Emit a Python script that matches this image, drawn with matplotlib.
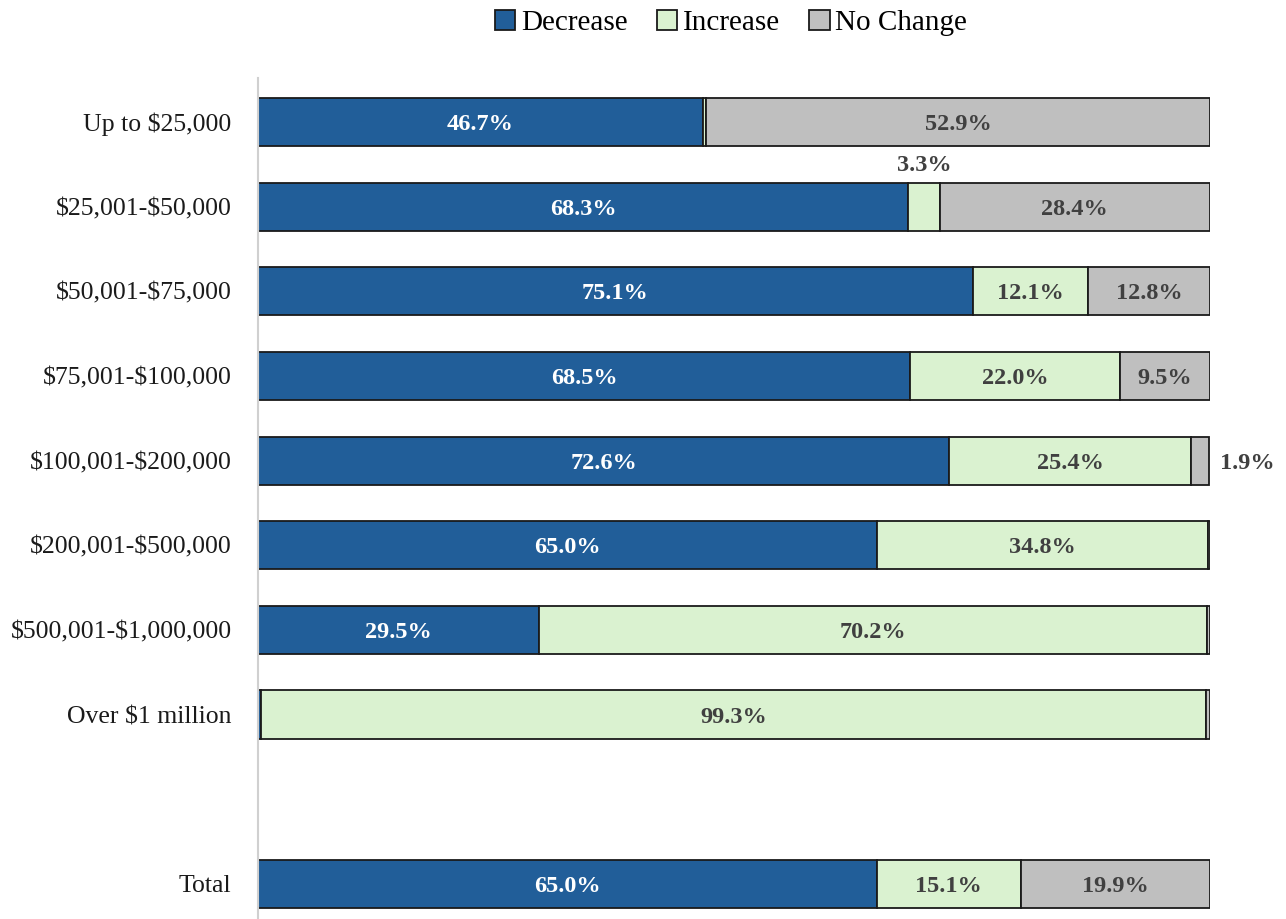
import matplotlib
matplotlib.use("Agg")
import matplotlib.pyplot as plt
from matplotlib.patches import Patch

plt.rcParams['font.family'] = ['Liberation Serif', 'DejaVu Serif']
plt.rcParams['text.parse_math'] = False

categories = ["Up to $25,000", "$25,001-$50,000", "$50,001-$75,000", "$75,001-$100,000",
              "$100,001-$200,000", "$200,001-$500,000", "$500,001-$1,000,000",
              "Over $1 million", "", "Total"]
decrease = [46.7, 68.3, 75.1, 68.5, 72.6, 65.0, 29.5, 0.3, None, 65.0]
increase = [0.4, 3.3, 12.1, 22.0, 25.4, 34.8, 70.2, 99.3, None, 15.1]
no_change = [52.9, 28.4, 12.8, 9.5, 1.9, 0.2, 0.3, 0.4, None, 19.9]
series_names = ["Decrease", "Increase", "No Change"]
colors = ["#215E99", "#DAF2D0", "#BFBFBF"]

fig = plt.figure(figsize=(12.86, 9.19), dpi=100)
ax = fig.add_axes([258/1286, 0.0, (1210-258)/1286, 1 - 78/919])

h = 0.57
fs = 17.5
for i, cat in enumerate(categories):
    if decrease[i] is None:
        continue
    vals = [decrease[i], increase[i], no_change[i]]
    left = 0
    for j, v in enumerate(vals):
        ax.barh(i, v, left=left, height=h, color=colors[j], edgecolor="#1a1a1a", linewidth=1.3)
        cx = left + v / 2
        label = f"{v:.1f}%"
        if v >= 5:
            ax.text(cx, i, label, ha="center", va="center_baseline", fontsize=fs, fontweight="bold",
                    color="white" if j == 0 else "#404040")
        left += v

# outside labels for small segments
ax.text(decrease[1] + increase[1] / 2, 1 - 0.52, f"{increase[1]:.1f}%", ha="center", va="center_baseline",
        fontsize=fs, fontweight="bold", color="#404040")
ax.text(101.0, 4, f"{no_change[4]:.1f}%", ha="left", va="center_baseline",
        fontsize=fs, fontweight="bold", color="#404040")

ax.set_xlim(0, 100)
ax.set_ylim(9 + 35/84.5, -0.52)
ax.set_yticks(range(len(categories)))
ax.set_yticklabels(categories, fontsize=18.5, color="#1a1a1a")
ax.tick_params(axis="y", length=0, pad=19)
ax.set_xticks([])
for s in ["top", "right", "bottom"]:
    ax.spines[s].set_visible(False)
ax.spines["left"].set_color("#D0D0D0")
ax.spines["left"].set_linewidth(1.5)

handles = [Patch(facecolor=c, edgecolor="#1a1a1a", linewidth=1.3) for c in colors]
fig.legend(handles, series_names, loc="center", bbox_to_anchor=(731/1286, 1 - 23/919), ncol=3,
           frameon=False, fontsize=21, handlelength=0.7, handleheight=0.7, handletextpad=0.2,
           columnspacing=1.0)

fig.savefig("out.png", dpi=100)
